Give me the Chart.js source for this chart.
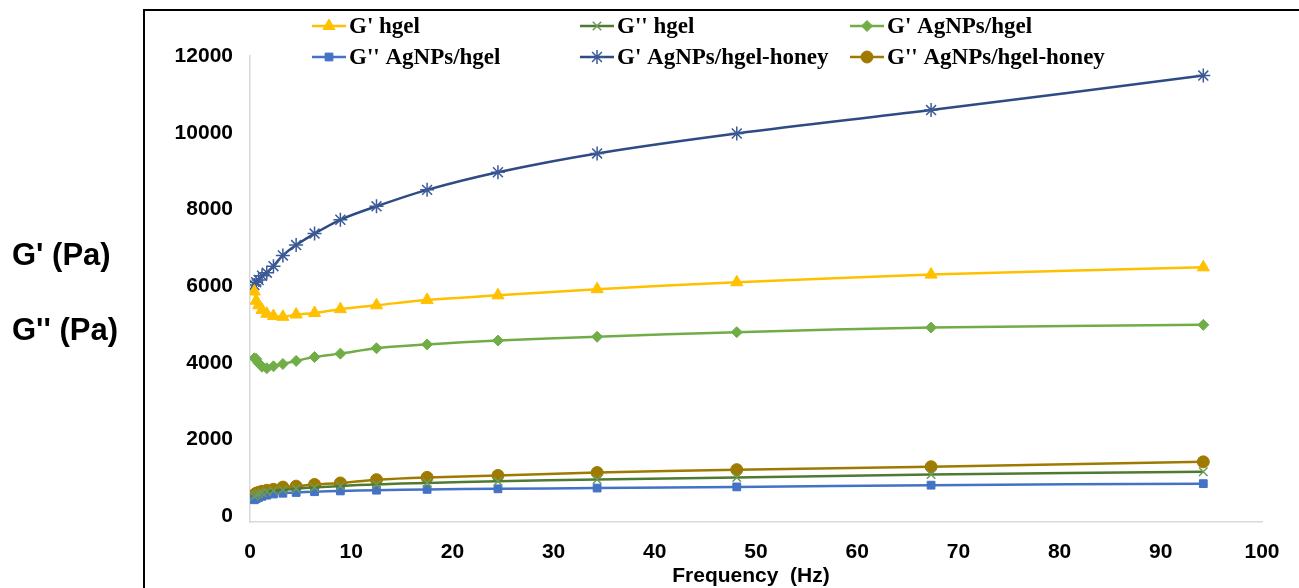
<!DOCTYPE html>
<html>
<head>
<meta charset="utf-8">
<script src="https://cdn.jsdelivr.net/npm/chart.js@4.4.1/dist/chart.umd.min.js"></script>
<style>
  html, body { margin: 0; padding: 0; background: #fff; }
  body { width: 1299px; height: 588px; position: relative; overflow: hidden; font-family: "Liberation Sans", Arial, sans-serif; }
  #frame { position: absolute; left: 143px; top: 9px; width: 1200px; height: 640px; border: 2px solid #000; box-sizing: border-box; }
  #chartBox { position: absolute; left: 0; top: 0; width: 1299px; height: 588px; }
  .ylab { position: absolute; left: 12px; font-weight: bold; font-size: 31px; line-height: 1; white-space: nowrap; color: #000; }
  #xtitle { position: absolute; left: 0; width: 1502px; top: 564px; text-align: center; font-weight: bold; font-size: 21px; line-height: 1; white-space: pre; color: #000; }
</style>
</head>
<body>
<div id="frame"></div>
<div id="chartBox"><canvas id="rheoChart" width="1299" height="588"></canvas></div>
<div class="ylab" style="top:239px">G' (Pa)</div>
<div class="ylab" style="top:314px">G'' (Pa)</div>
<div id="xtitle">Frequency  (Hz)</div>
<script>
// frequency sweep (Hz)
const freq = [0.43, 0.61, 0.85, 1.19, 1.66, 2.32, 3.25, 4.56, 6.38, 8.93, 12.5, 17.5, 24.5, 34.3, 48.1, 67.3, 94.2];

// moduli (Pa)
const gpHgel     = [5860, 5620, 5500, 5380, 5280, 5220, 5200, 5260, 5300, 5400, 5500, 5640, 5760, 5920, 6100, 6300, 6490];
const gppHgel    = [520, 560, 590, 615, 640, 665, 690, 720, 750, 790, 830, 870, 910, 960, 1010, 1090, 1160];
const gpAg       = [4120, 4100, 3990, 3900, 3860, 3910, 3970, 4050, 4150, 4240, 4380, 4480, 4580, 4680, 4800, 4920, 4990];
const gppAg      = [430, 460, 490, 520, 550, 580, 600, 620, 640, 660, 680, 700, 715, 735, 765, 810, 850];
const gpHoney    = [6030, 6100, 6160, 6270, 6350, 6520, 6800, 7070, 7370, 7730, 8080, 8510, 8970, 9460, 9980, 10590, 11490];
const gppHoney   = [565, 600, 625, 650, 676, 701, 760, 785, 828, 868, 954, 1013, 1063, 1139, 1215, 1291, 1418];

const seriesNames = ["G' hgel", "G'' hgel", "G' AgNPs/hgel", "G'' AgNPs/hgel", "G' AgNPs/hgel-honey", "G'' AgNPs/hgel-honey"];

const xTicks = [0, 10, 20, 30, 40, 50, 60, 70, 80, 90, 100];
const yTicks = [0, 2000, 4000, 6000, 8000, 10000, 12000];

function pts(vals) {
    return freq.map((f, i) => ({ x: f, y: vals[i] }));
}

function mkSet(label, vals, color, markColor, style, radius) {
    return {
        label: label,
        data: pts(vals),
        borderColor: color,
        backgroundColor: markColor,
        pointBorderColor: markColor,
        pointBackgroundColor: markColor,
        pointStyle: style,
        pointRadius: radius,
        pointBorderWidth: (style === 'crossRot' || style === 'star') ? 1.5 : 1,
        borderWidth: 2.5,
        tension: 0.35,
        fill: false
    };
}

// legend drawn at fixed slots like the original (3 columns x 2 rows)
const slotLegend = {
    id: 'slotLegend',
    afterDraw(chart) {
        const ctx = chart.ctx;
        const slots = [[312, 26], [580, 26], [850, 26], [312, 57], [580, 57], [850, 57]];
        chart.data.datasets.forEach((ds, i) => {
            const [x, y] = slots[i];
            ctx.save();
            ctx.strokeStyle = ds.borderColor;
            ctx.lineWidth = 2.5;
            ctx.beginPath();
            ctx.moveTo(x, y);
            ctx.lineTo(x + 34, y);
            ctx.stroke();
            ctx.fillStyle = ds.pointBackgroundColor;
            ctx.strokeStyle = ds.pointBorderColor;
            ctx.lineWidth = ds.pointBorderWidth;
            Chart.helpers.drawPoint(ctx, { pointStyle: ds.pointStyle, radius: ds.pointRadius, rotation: 0, borderWidth: ds.pointBorderWidth }, x + 17, y);
            ctx.fillStyle = '#000';
            ctx.font = 'bold 23px "Liberation Serif", "Times New Roman", serif';
            ctx.textBaseline = 'middle';
            ctx.textAlign = 'left';
            ctx.fillText(ds.label, x + 37, y + 1);
            ctx.restore();
        });
    }
};

document.addEventListener("DOMContentLoaded", () => {
    const tickFont = { family: '"Liberation Sans", Arial, sans-serif', size: 21, weight: 'bold' };
    new Chart(document.getElementById('rheoChart').getContext('2d'), {
        type: 'line',
        data: {
            datasets: [
                mkSet(seriesNames[0], gpHgel,   '#FFC000', '#FFC000', 'triangle', 7),
                mkSet(seriesNames[1], gppHgel,  '#4F7A32', '#6F9A58', 'crossRot', 6),
                mkSet(seriesNames[2], gpAg,     '#70AD47', '#70AD47', 'rectRot', 5.5),
                mkSet(seriesNames[3], gppAg,    '#4472C4', '#4472C4', 'rect', 5.5),
                mkSet(seriesNames[4], gpHoney,  '#2F4B85', '#3B5A96', 'star', 7),
                mkSet(seriesNames[5], gppHoney, '#9E7A00', '#9E7A00', 'circle', 6)
            ]
        },
        options: {
            responsive: false,
            animation: false,
            layout: { padding: { left: 144, right: 37, top: 56, bottom: 0 } },
            scales: {
                x: {
                    type: 'linear',
                    min: 0,
                    max: 100,
                    afterBuildTicks: (s) => { s.ticks = xTicks.map(v => ({ value: v })); },
                    grid: { display: false, drawTicks: false },
                    border: { display: true, color: '#d9d9d9', width: 1.5 },
                    ticks: { color: '#000', font: tickFont, padding: 18, maxRotation: 0, callback: (v) => String(v) },
                    afterFit: (s) => { s.height = 66; }
                },
                y: {
                    type: 'linear',
                    min: -150,
                    max: 12000,
                    afterBuildTicks: (s) => { s.ticks = yTicks.map(v => ({ value: v })); },
                    grid: { display: false, drawTicks: false },
                    border: { display: true, color: '#d9d9d9', width: 1.5 },
                    ticks: { color: '#000', font: tickFont, padding: 17, callback: (v) => String(v) },
                    afterFit: (s) => { s.width = 106; }
                }
            },
            plugins: {
                legend: { display: false },
                tooltip: { enabled: false }
            }
        },
        plugins: [slotLegend]
    });
});
</script>
</body>
</html>
